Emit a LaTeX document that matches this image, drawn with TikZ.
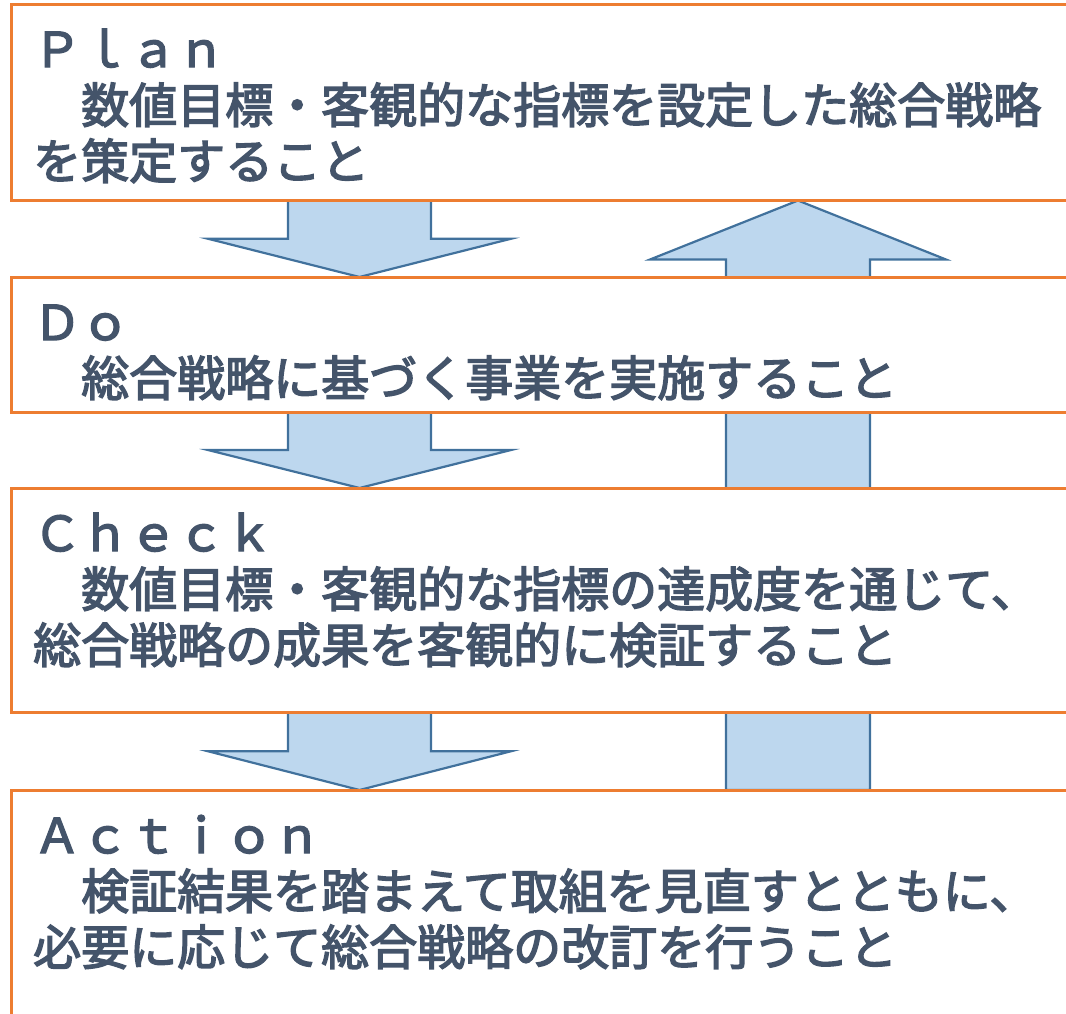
\documentclass[tikz,border=0pt]{standalone}
\usepackage{fontspec}
\setmainfont{Noto Sans CJK JP}
\newfontfamily\pdcafont{Noto Sans CJK JP}[FakeBold=3]
\usetikzlibrary{calc,backgrounds}
\definecolor{boxorange}{HTML}{ED7D31}
\definecolor{arrowfill}{HTML}{BDD7EE}
\definecolor{arrowline}{HTML}{41719C}
\definecolor{textslate}{HTML}{44546A}
\newcommand\pdcaDown[2]{%
  \coordinate (t) at (dx |- #1.south);
  \coordinate (b) at (dx |- #2.north);
  \coordinate (m) at ($(t)!.5!(b)$);
  \draw[blk] ($(t)+(-71.5,0)$) -- ($(m)+(-71.5,0)$) -- ($(m)+(-151.5,0)$) -- (b)
    -- ($(m)+(151.5,0)$) -- ($(m)+(71.5,0)$) -- ($(t)+(71.5,0)$) -- cycle;}
\begin{document}
\begin{tikzpicture}[x=1pt,y=-1pt,
  pdcabox/.style={draw=boxorange,line width=3pt,fill=white,anchor=north west,
    inner sep=0pt,outer sep=0pt,minimum width=1069pt},
  blk/.style={draw=arrowline,fill=arrowfill,line width=2.2pt,line join=miter},
  pdcatext/.style={anchor=base west,inner sep=0pt,text=textslate,
    font=\pdcafont\fontsize{48}{56}\selectfont,align=left,text width=1040pt}]
\useasboundingbox (0,0) rectangle (1066,1013);
\clip (0,0) rectangle (1066,1013);
\node[pdcabox,minimum height=196.5pt] (plan) at (11,4) {};
\node[pdcabox,minimum height=135pt] (do) at (11,277) {};
\node[pdcabox,minimum height=224.5pt] (check) at (11,488) {};
\node[pdcabox,minimum height=240pt] (action) at (11,790) {};
\coordinate (dx) at (359.5,0);
\coordinate (ux) at (798,0);
\begin{scope}[on background layer]
  \pdcaDown{plan}{do}
  \pdcaDown{do}{check}
  \pdcaDown{check}{action}
  \coordinate (ut) at (ux |- plan.south);
  \coordinate (ub) at (ux |- action.north);
  \draw[blk] ($(ub)+(-72,0)$) -- ($(ut)+(-72,59)$) -- ($(ut)+(-148,59)$) -- (ut)
    -- ($(ut)+(148,59)$) -- ($(ut)+(72,59)$) -- ($(ub)+(72,0)$) -- cycle;
\end{scope}
\node[pdcatext] (plantext) at ($(plan.north west)+(22,63)$)
  {Ｐｌａｎ\\　数値目標・客観的な指標を設定した総合戦略\\を策定すること};
\node[pdcatext] (dotext) at ($(do.north west)+(22,63)$)
  {Ｄｏ\\　総合戦略に基づく事業を実施すること};
\node[pdcatext] (checktext) at ($(check.north west)+(22,63)$)
  {Ｃｈｅｃｋ\\　数値目標・客観的な指標の達成度を通じて、\\総合戦略の成果を客観的に検証すること};
\node[pdcatext] (actiontext) at ($(action.north west)+(22,63)$)
  {Ａｃｔｉｏｎ\\　検証結果を踏まえて取組を見直すとともに、\\必要に応じて総合戦略の改訂を行うこと};
\end{tikzpicture}
\end{document}
